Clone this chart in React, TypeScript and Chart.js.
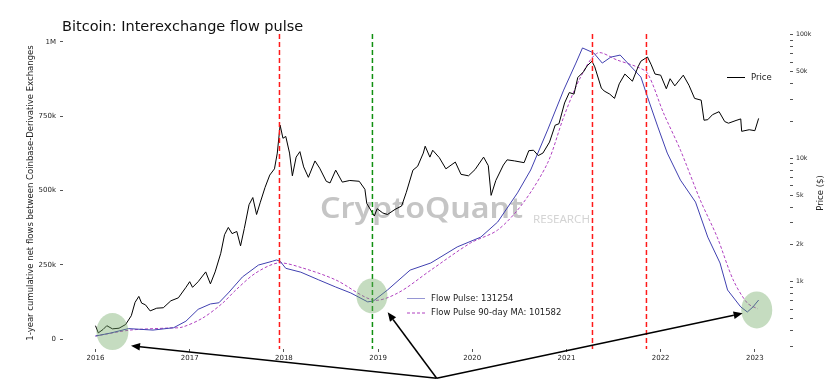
import React, { useEffect, useRef } from 'react';
import { Chart, registerables } from 'chart.js';

Chart.register(...registerables);

// ---------- data (decimal years) ----------
const priceYears = [
  2016.0, 2016.03, 2016.08, 2016.12, 2016.18, 2016.25, 2016.32, 2016.38, 2016.42, 2016.46, 2016.49,
  2016.53, 2016.58, 2016.65, 2016.72, 2016.8, 2016.88, 2016.96, 2017.0, 2017.03, 2017.09, 2017.17,
  2017.22, 2017.27, 2017.33, 2017.37, 2017.41, 2017.45, 2017.5, 2017.54, 2017.58, 2017.63, 2017.67,
  2017.71, 2017.75, 2017.8, 2017.85, 2017.9, 2017.93, 2017.96, 2017.99, 2018.02, 2018.06, 2018.09,
  2018.13, 2018.17, 2018.21, 2018.26, 2018.33, 2018.38, 2018.45, 2018.49, 2018.55, 2018.62, 2018.7,
  2018.8, 2018.86, 2018.88, 2018.96, 2018.99, 2019.05, 2019.1, 2019.18, 2019.25, 2019.3, 2019.37,
  2019.42, 2019.48, 2019.5, 2019.55, 2019.58, 2019.65, 2019.72, 2019.82, 2019.88, 2019.96, 2020.03,
  2020.12, 2020.17, 2020.2, 2020.25, 2020.33, 2020.37, 2020.45, 2020.55, 2020.6, 2020.65, 2020.7,
  2020.75, 2020.82, 2020.88, 2020.92, 2020.98, 2021.03, 2021.08, 2021.12, 2021.18, 2021.22, 2021.27,
  2021.3, 2021.37, 2021.4, 2021.46, 2021.51, 2021.56, 2021.62, 2021.7, 2021.76, 2021.79, 2021.86,
  2021.9, 2021.94, 2022.0, 2022.06, 2022.1, 2022.15, 2022.24, 2022.3, 2022.36, 2022.43, 2022.46,
  2022.5, 2022.55, 2022.62, 2022.68, 2022.72, 2022.8, 2022.85, 2022.86, 2022.94, 2023.0, 2023.04,
];
const priceValues = [
  440, 385, 410, 440, 415, 420, 450, 530, 680, 760, 670,
  650, 580, 610, 615, 700, 740, 900, 1000, 900, 1000, 1200,
  960, 1200, 1700, 2400, 2750, 2450, 2550, 1950, 2700, 4200, 4800,
  3500, 4400, 5800, 7300, 8200, 11000, 18500, 14500, 15000, 11000, 7200,
  10200, 11300, 8500, 7000, 9500, 8300, 6500, 6300, 8000, 6400, 6600,
  6500, 5600, 4300, 3400, 3900, 3600, 3500, 3850, 4100, 5300, 8000,
  8600, 11000, 12500, 10200, 11600, 10100, 8200, 9300, 7400, 7200, 8100,
  10200, 8700, 5000, 6600, 8800, 9700, 9500, 9200, 11500, 11600, 10500,
  11000, 13500, 18500, 19000, 28000, 34000, 33000, 45000, 50000, 56000, 61000,
  55000, 37000, 35000, 33000, 30500, 40000, 48000, 42000, 55000, 61000, 66000,
  57000, 48000, 47000, 36500, 44000, 38500, 47000, 39000, 30500, 29500, 20300,
  20500, 22500, 23800, 19800, 19200, 20200, 20800, 16500, 17000, 16700, 21000,
];

const flowYears = [
  2016.0, 2016.16, 2016.35, 2016.61, 2016.83, 2016.96, 2017.09, 2017.22, 2017.31, 2017.41, 2017.56,
  2017.73, 2017.88, 2017.92, 2017.96, 2018.02, 2018.18, 2018.37, 2018.55, 2018.71, 2018.89, 2018.95,
  2019.1, 2019.34, 2019.56, 2019.84, 2020.09, 2020.27, 2020.48, 2020.62, 2020.8, 2020.97, 2021.1,
  2021.17, 2021.29, 2021.38, 2021.47, 2021.57, 2021.65, 2021.79, 2021.86, 2021.97, 2022.07, 2022.21,
  2022.37, 2022.5, 2022.63, 2022.71, 2022.85, 2022.92, 2022.98, 2023.04,
];
const flowValues = [
  10000, 20000, 35000, 30000, 38000, 60000, 100000, 118000, 122000, 155000, 209000,
  249000, 262000, 266000, 262000, 238000, 225000, 199000, 175000, 155000, 125000, 128000,
  165000, 232000, 256000, 310000, 343000, 394000, 492000, 569000, 704000, 838000, 929000,
  980000, 963000, 929000, 949000, 956000, 929000, 882000, 815000, 714000, 626000, 535000,
  461000, 343000, 256000, 165000, 108000, 91000, 108000, 131254,
];

const maYears = [
  2016.0, 2016.37, 2016.77, 2016.92, 2017.14, 2017.35, 2017.49, 2017.7, 2017.94, 2018.2, 2018.55,
  2018.95, 2019.21, 2019.56, 2019.98, 2020.27, 2020.54, 2020.8, 2020.97, 2021.15, 2021.33, 2021.54,
  2021.75, 2021.86, 2022.03, 2022.21, 2022.42, 2022.6, 2022.77, 2022.92, 2023.03,
];
const maValues = [
  10000, 30000, 37000, 40000, 71000, 121000, 165000, 222000, 256000, 239000, 199000,
  131000, 155000, 232000, 323000, 367000, 458000, 593000, 747000, 882000, 963000, 939000,
  916000, 895000, 761000, 636000, 468000, 343000, 199000, 121000, 101582,
];

const xTickYears = [2016, 2017, 2018, 2019, 2020, 2021, 2022, 2023];
const leftTickValues = [0, 250000, 500000, 750000, 1000000];
const leftTickLabels = ['0', '250k', '500k', '750k', '1M'];
const rightTickValues = [
  300, 400, 500, 600, 700, 800, 900, 1000, 2000, 3000, 4000, 5000, 6000, 7000, 8000, 9000,
  10000, 20000, 30000, 40000, 50000, 60000, 70000, 80000, 90000, 100000,
];
const rightTickLabels: Record<number, string> = {
  1000: '1k', 2000: '2k', 5000: '5k', 10000: '10k', 50000: '50k', 100000: '100k',
};

const redEventYears = [2017.953, 2021.276, 2021.849];
const greenEventYears = [2018.94];
const highlightYears = [2016.18, 2018.935, 2023.02];
const highlightValues = [25000, 145000, 98000];
const arrowTailYear = 2019.622;
const arrowTailValue = -132000;
const arrowHeadYears = [2016.377, 2019.102, 2022.87];
const arrowHeadValues = [-22600, 89900, 86500];

const titleText = 'Bitcoin: Interexchange flow pulse';
const leftAxisTitle = '1-year cumulative net flows between Coinbase-Derivative Exchanges';
const rightAxisTitle = 'Price ($)';
const flowLegendLabels = ['Flow Pulse: 131254', 'Flow Pulse 90-day MA: 101582'];
const priceLegendLabel = 'Price';
const watermarkMain = 'CryptoQuant';
const watermarkSub = 'RESEARCH';

const FLOW_COLOR = '#4040b0';
const MA_COLOR = '#b040c0';
const FONT = '"DejaVu Sans", sans-serif';

const drawFitted = (ctx: CanvasRenderingContext2D, text: string, x: number, y: number, width: number) => {
  const w = ctx.measureText(text).width;
  ctx.save();
  ctx.translate(x, y);
  ctx.scale(width / w, 1);
  ctx.fillText(text, 0, 0);
  ctx.restore();
};

const decorPlugin = {
  id: 'decor',
  beforeDatasetsDraw(chart: any) {
    const ctx = chart.ctx as CanvasRenderingContext2D;
    ctx.save();
    // watermark
    ctx.textBaseline = 'alphabetic';
    ctx.textAlign = 'left';
    ctx.fillStyle = 'rgba(140,140,140,0.5)';
    ctx.font = `600 29px "Noto Sans", sans-serif`;
    drawFitted(ctx, watermarkMain, 320, 218, 203);
    ctx.fillStyle = 'rgba(170,170,170,0.5)';
    ctx.font = `11.5px "Noto Sans", sans-serif`;
    drawFitted(ctx, watermarkSub, 533, 223, 57);
    ctx.restore();
  },
  afterDatasetsDraw(chart: any) {
    const ctx = chart.ctx as CanvasRenderingContext2D;
    const xs = chart.scales.x;
    const ys = chart.scales.y;
    const area = chart.chartArea;
    ctx.save();
    // vertical event lines
    const vline = (yr: number, color: string) => {
      const px = xs.getPixelForValue(yr);
      ctx.beginPath();
      ctx.setLineDash([5, 3]);
      ctx.strokeStyle = color;
      ctx.lineWidth = 1.5;
      ctx.moveTo(px, area.top);
      ctx.lineTo(px, area.bottom);
      ctx.stroke();
    };
    redEventYears.forEach((y) => vline(y, '#ff1a1a'));
    greenEventYears.forEach((y) => vline(y, '#109010'));
    ctx.setLineDash([]);

    // highlight ellipses
    ctx.fillStyle = 'rgba(110,168,98,0.4)';
    const radii = [[16, 18.5], [15.5, 17.5], [15.5, 18.5]];
    highlightYears.forEach((yr, i) => {
      ctx.beginPath();
      ctx.ellipse(xs.getPixelForValue(yr), ys.getPixelForValue(highlightValues[i]), radii[i][0], radii[i][1], 0, 0, Math.PI * 2);
      ctx.fill();
    });

    // arrows
    const tx = xs.getPixelForValue(arrowTailYear);
    const ty = ys.getPixelForValue(arrowTailValue);
    ctx.strokeStyle = '#000';
    ctx.fillStyle = '#000';
    ctx.lineWidth = 1.5;
    arrowHeadYears.forEach((yr, i) => {
      const hx = xs.getPixelForValue(yr);
      const hy = ys.getPixelForValue(arrowHeadValues[i]);
      const ang = Math.atan2(hy - ty, hx - tx);
      const L = 9;
      const W = 3.8;
      const bx = hx - L * Math.cos(ang);
      const by = hy - L * Math.sin(ang);
      ctx.beginPath();
      ctx.moveTo(tx, ty);
      ctx.lineTo(bx, by);
      ctx.stroke();
      ctx.beginPath();
      ctx.moveTo(hx, hy);
      ctx.lineTo(bx + W * Math.sin(ang), by - W * Math.cos(ang));
      ctx.lineTo(bx - W * Math.sin(ang), by + W * Math.cos(ang));
      ctx.closePath();
      ctx.fill();
    });

    // legends
    ctx.font = `8.5px ${FONT}`;
    ctx.textBaseline = 'middle';
    ctx.textAlign = 'left';
    const legY = [298.5, 313];
    legY.forEach((ly, i) => {
      ctx.beginPath();
      ctx.strokeStyle = i === 0 ? 'rgba(64,64,176,0.55)' : MA_COLOR;
      ctx.lineWidth = 1;
      ctx.setLineDash(i === 0 ? [] : [3, 2]);
      ctx.moveTo(407, ly);
      ctx.lineTo(425, ly);
      ctx.stroke();
      ctx.setLineDash([]);
      ctx.fillStyle = '#222';
      ctx.fillText(flowLegendLabels[i], 431, ly);
    });
    ctx.beginPath();
    ctx.strokeStyle = '#000';
    ctx.lineWidth = 1;
    ctx.moveTo(727, 77.5);
    ctx.lineTo(745, 77.5);
    ctx.stroke();
    ctx.fillStyle = '#222';
    ctx.fillText(priceLegendLabel, 751, 77.5);
    ctx.restore();
  },
  afterDraw(chart: any) {
    const ctx = chart.ctx as CanvasRenderingContext2D;
    ctx.save();
    ctx.fillStyle = '#111';
    ctx.font = `14.5px ${FONT}`;
    ctx.textAlign = 'left';
    ctx.textBaseline = 'alphabetic';
    ctx.fillText(titleText, 62, 30.5);

    ctx.fillStyle = '#222';
    ctx.font = `8.5px ${FONT}`;
    ctx.textAlign = 'center';
    ctx.textBaseline = 'middle';
    ctx.translate(31, 193);
    ctx.rotate(-Math.PI / 2);
    ctx.fillText(leftAxisTitle, 0, 0);
    ctx.restore();

    ctx.save();
    ctx.fillStyle = '#222';
    ctx.font = `8.5px ${FONT}`;
    ctx.textAlign = 'center';
    ctx.textBaseline = 'middle';
    ctx.translate(821, 193);
    ctx.rotate(-Math.PI / 2);
    ctx.fillText(rightAxisTitle, 0, 0);
    ctx.restore();
  },
};

export default function App() {
  const canvasRef = useRef<HTMLCanvasElement | null>(null);

  useEffect(() => {
    document.body.style.margin = '0';
    const canvas = canvasRef.current;
    if (!canvas) return;
    const chart = new Chart(canvas, {
      type: 'line',
      data: {
        datasets: [
          {
            label: 'Price',
            data: priceYears.map((x, i) => ({ x, y: priceValues[i] })),
            yAxisID: 'yPrice',
            borderColor: '#000',
            borderWidth: 1,
            pointRadius: 0,
            tension: 0,
          },
          {
            label: 'Flow Pulse',
            data: flowYears.map((x, i) => ({ x, y: flowValues[i] })),
            yAxisID: 'y',
            borderColor: FLOW_COLOR,
            borderWidth: 1,
            pointRadius: 0,
            tension: 0,
          },
          {
            label: 'Flow Pulse 90-day MA',
            data: maYears.map((x, i) => ({ x, y: maValues[i] })),
            yAxisID: 'y',
            borderColor: MA_COLOR,
            borderWidth: 1,
            borderDash: [3, 2],
            pointRadius: 0,
            tension: 0.3,
          },
        ],
      },
      options: {
        responsive: false,
        animation: false,
        devicePixelRatio: 1,
        layout: { padding: { top: 34, left: 0, right: 0, bottom: 0 } },
        plugins: {
          legend: { display: false },
          tooltip: { enabled: false },
          title: { display: false },
        },
        scales: {
          x: {
            type: 'linear',
            min: 2015.655,
            max: 2023.373,
            afterBuildTicks: (s: any) => {
              s.ticks = xTickYears.map((v) => ({ value: v }));
            },
            afterFit: (s: any) => {
              s.height = 36;
            },
            ticks: {
              autoSkip: false,
              maxRotation: 0,
              padding: 2,
              color: '#222',
              font: { family: FONT, size: 7 },
              callback: (v: any) => String(v),
            },
            grid: { drawOnChartArea: false, drawTicks: true, tickLength: 3, color: '#555' },
            border: { display: false },
          },
          y: {
            type: 'linear',
            position: 'left',
            min: -33670,
            max: 1026936,
            afterBuildTicks: (s: any) => {
              s.ticks = leftTickValues.map((v) => ({ value: v }));
            },
            afterFit: (s: any) => {
              s.width = 63;
            },
            ticks: {
              autoSkip: false,
              padding: 4,
              color: '#222',
              font: { family: FONT, size: 7 },
              callback: (v: any) => {
                const i = leftTickValues.indexOf(Number(v));
                return i >= 0 ? leftTickLabels[i] : '';
              },
            },
            grid: { drawOnChartArea: false, drawTicks: true, tickLength: 3, color: '#555' },
            border: { display: false },
          },
          yPrice: {
            type: 'logarithmic',
            position: 'right',
            min: 285,
            max: 101300,
            afterBuildTicks: (s: any) => {
              s.ticks = rightTickValues.map((v) => ({ value: v }));
            },
            afterFit: (s: any) => {
              s.width = 49;
            },
            ticks: {
              autoSkip: false,
              padding: 3,
              color: '#222',
              font: { family: FONT, size: 6.2 },
              callback: (v: any) => rightTickLabels[Number(v)] ?? '',
            },
            grid: { drawOnChartArea: false, drawTicks: true, tickLength: 3, color: '#555' },
            border: { display: false },
          },
        },
      },
      plugins: [decorPlugin],
    } as any);
    return () => chart.destroy();
  }, []);

  return (
    <div style={{ width: 839, height: 385 }}>
      <canvas ref={canvasRef} width={839} height={385} style={{ display: 'block' }} />
    </div>
  );
}
